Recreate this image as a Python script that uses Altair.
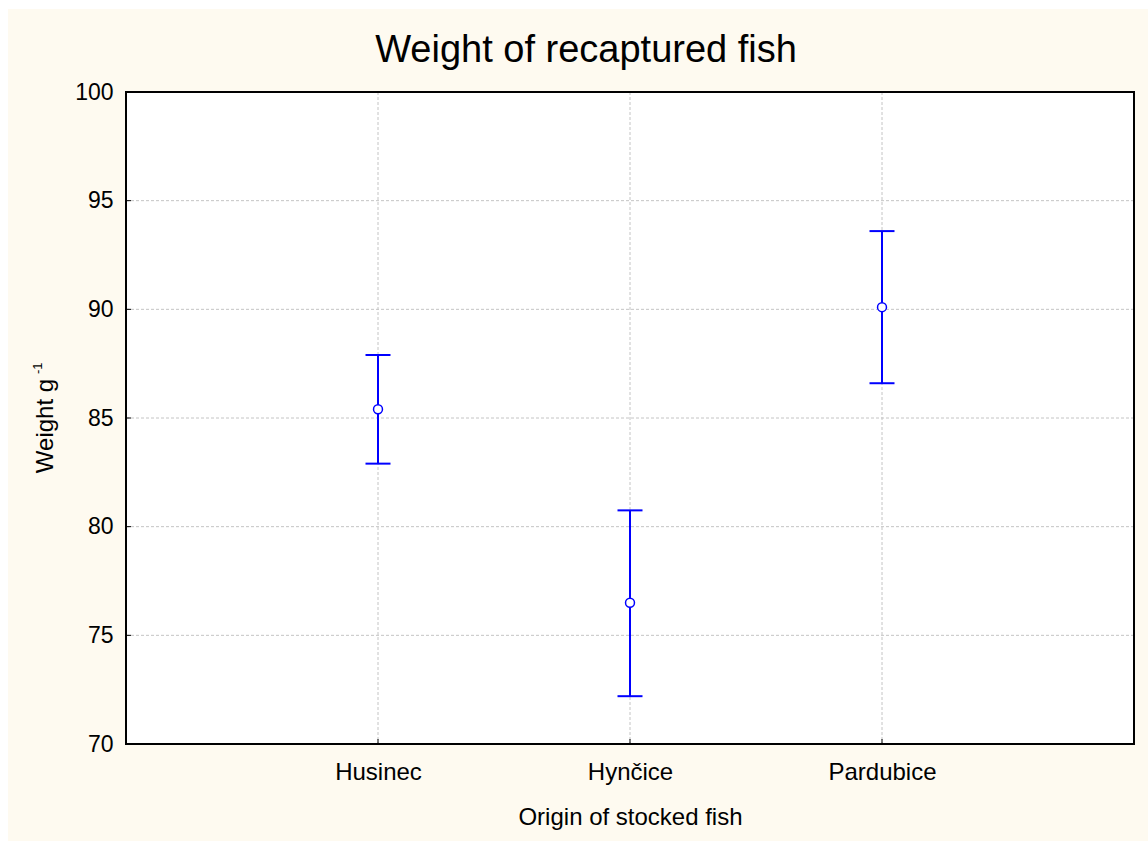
import altair as alt
import pandas as pd

# ---- data ----
categories = ["Husinec", "Hynčice", "Pardubice"]
means = [85.4, 76.5, 90.1]
lower = [82.9, 72.2, 86.6]
upper = [87.9, 80.75, 93.6]
y_ticks = [70, 75, 80, 85, 90, 95, 100]

# ---- styling ----
W, H = 1008, 652
FONT = "Liberation Sans, Arial, Helvetica, sans-serif"
BLUE = "#0000FF"
CREAM = "#FEFAF0"
GRID = "#C4C4C4"

df = pd.DataFrame({"origin": categories, "mean": means, "lower": lower, "upper": upper})
df_y = pd.DataFrame({"v": y_ticks})
df_x = pd.DataFrame({"origin": categories})
one = pd.DataFrame({"k": [0]})

xs = alt.Scale(type="point", domain=categories, padding=1)
ys = alt.Scale(domain=[70, 100], nice=False, zero=False)

x_axis = alt.Axis(
    title="Origin of stocked fish", grid=False, ticks=False, tickSize=0, domain=False,
    labelFontSize=24, labelFont=FONT, labelColor="black", labelPadding=16, labelAngle=0,
    titleFontSize=24, titleFont=FONT, titleColor="black", titleFontWeight="normal",
    titlePadding=21, zindex=1,
)
y_axis = alt.Axis(
    title=None, grid=False, ticks=False, tickSize=0, domain=False, values=y_ticks,
    labelFontSize=23, labelFont=FONT, labelColor="black", labelPadding=13, zindex=1,
)


def X(field):
    return alt.X(field, scale=xs, sort=categories, axis=x_axis)


def Y(field):
    return alt.Y(field, scale=ys, axis=y_axis)


# cream page with a thin white margin at the top and left, white plot area
page_bg = alt.Chart(one).mark_rect(color=CREAM).encode(
    x=alt.value(-118), x2=alt.value(W + 60), y=alt.value(-83), y2=alt.value(H + 140)
)
plot_bg = alt.Chart(one).mark_rect(color="white").encode(
    x=alt.value(0), x2=alt.value(W), y=alt.value(0), y2=alt.value(H)
)

hgrid = alt.Chart(df_y).mark_rule(color=GRID, strokeWidth=1, strokeDash=[3, 2]).encode(
    y=Y("v:Q"), x=alt.value(0), x2=alt.value(W)
)
vgrid = alt.Chart(df_x).mark_rule(color=GRID, strokeWidth=1, strokeDash=[3, 2]).encode(
    x=X("origin:N"), y=alt.value(0), y2=alt.value(H)
)

ytick = alt.Chart(df_y).mark_rule(color="black", strokeWidth=1).encode(
    y=Y("v:Q"), x=alt.value(0), x2=alt.value(5)
)
xtick = alt.Chart(df_x).mark_rule(color="black", strokeWidth=1).encode(
    x=X("origin:N"), y=alt.value(H), y2=alt.value(H - 5)
)

base = alt.Chart(df).encode(x=X("origin:N"))
bar = base.mark_rule(color=BLUE, strokeWidth=2).encode(y=Y("lower:Q"), y2="upper:Q")
cap_lo = base.mark_tick(color=BLUE, size=25, thickness=2, orient="horizontal", opacity=1).encode(
    y=Y("lower:Q")
)
cap_hi = base.mark_tick(color=BLUE, size=25, thickness=2, orient="horizontal", opacity=1).encode(
    y=Y("upper:Q")
)
pts = base.mark_point(shape="circle", filled=True, fill="white", stroke=BLUE,
                      strokeWidth=1.5, size=80, opacity=1).encode(y=Y("mean:Q"))

border = alt.Chart(one).mark_rect(filled=False, stroke="black", strokeWidth=2).encode(
    x=alt.value(0), x2=alt.value(W), y=alt.value(0), y2=alt.value(H)
)

title = alt.Chart(pd.DataFrame({"t": ["Weight of recaptured fish"]})).mark_text(
    font=FONT, fontSize=38, align="center", baseline="alphabetic", color="black"
).encode(text="t:N", x=alt.value(460), y=alt.value(-30))

ytitle_main = alt.Chart(pd.DataFrame({"t": ["Weight g"]})).mark_text(
    font=FONT, fontSize=24, angle=270, align="center", baseline="alphabetic", color="black"
).encode(text="t:N", x=alt.value(-73), y=alt.value(334))
ytitle_sup = alt.Chart(pd.DataFrame({"t": ["-1"]})).mark_text(
    font=FONT, fontSize=13, angle=270, align="left", baseline="alphabetic", color="black"
).encode(text="t:N", x=alt.value(-84), y=alt.value(282))

chart = alt.layer(
    page_bg, plot_bg, hgrid, vgrid, bar, cap_lo, cap_hi, pts, ytick, xtick, border,
    title, ytitle_main, ytitle_sup,
).properties(
    width=W, height=H,
    autosize=alt.AutoSizeParams(type="none"),
    padding={"left": 126, "top": 92, "right": 14, "bottom": 97},
    background="white",
).configure_view(stroke=None)

chart.save("out.html", embed_options={"renderer": "svg", "actions": False})
